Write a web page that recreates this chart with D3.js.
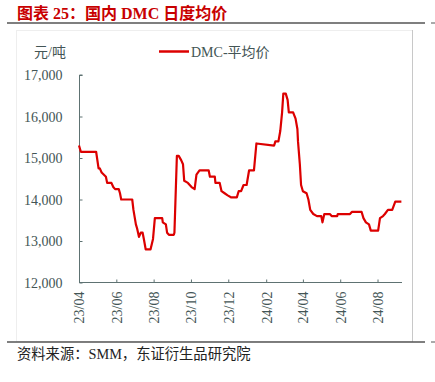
<!DOCTYPE html>
<html>
<head>
<meta charset="utf-8">
<script src="https://cdn.jsdelivr.net/npm/d3@7"></script>
<style>
  body { margin: 0; background: #fff; }
  svg { display: block; }
  text { font-family: "Liberation Serif", "Noto Sans CJK SC", serif; }
</style>
</head>
<body>
<svg id="chart" width="435" height="382"></svg>
<script>
// DMC daily average price, yuan / tonne
const dates = [
    "2023-04-01", "2023-04-04", "2023-04-29", "2023-05-03", "2023-05-05", "2023-05-08",
    "2023-05-15", "2023-05-17", "2023-05-24", "2023-05-27", "2023-05-30", "2023-06-05",
    "2023-06-07", "2023-06-09", "2023-06-27", "2023-06-29", "2023-07-03", "2023-07-05",
    "2023-07-08", "2023-07-11", "2023-07-14", "2023-07-16", "2023-07-19", "2023-07-27",
    "2023-07-31", "2023-08-03", "2023-08-15", "2023-08-16", "2023-08-21", "2023-08-23",
    "2023-08-26", "2023-08-30", "2023-09-03", "2023-09-04", "2023-09-08", "2023-09-11",
    "2023-09-15", "2023-09-18", "2023-09-20", "2023-09-26", "2023-10-02", "2023-10-07",
    "2023-10-10", "2023-10-15", "2023-10-30", "2023-11-01", "2023-11-09", "2023-11-10",
    "2023-11-17", "2023-11-20", "2023-11-25", "2023-11-30", "2023-12-06", "2023-12-15",
    "2023-12-18", "2023-12-22", "2023-12-26", "2023-12-31", "2024-01-04", "2024-01-12",
    "2024-01-16", "2024-02-14", "2024-02-16", "2024-02-21", "2024-02-24", "2024-02-27",
    "2024-02-29", "2024-03-04", "2024-03-07", "2024-03-09", "2024-03-16", "2024-03-20",
    "2024-03-23", "2024-03-24", "2024-03-27", "2024-03-29", "2024-04-01", "2024-04-07",
    "2024-04-10", "2024-04-13", "2024-04-18", "2024-04-24", "2024-05-01", "2024-05-03",
    "2024-05-06", "2024-05-15", "2024-05-18", "2024-05-27", "2024-05-28", "2024-06-17",
    "2024-06-20", "2024-07-06", "2024-07-09", "2024-07-13", "2024-07-18", "2024-07-21",
    "2024-08-02", "2024-08-05", "2024-08-10", "2024-08-13", "2024-08-18", "2024-08-25",
    "2024-08-30", "2024-09-09"
];
const prices = [
    15300, 15150, 15150, 14750, 14750, 14650,
    14550, 14400, 14400, 14300, 14250, 14250,
    14150, 14000, 14000, 13750, 13400, 13300,
    13100, 13200, 13200, 13050, 12800, 12800,
    13050, 13550, 13550, 13450, 13400, 13200,
    13150, 13150, 13150, 13200, 15050, 15050,
    14950, 14850, 14450, 14400, 14300, 14250,
    14600, 14700, 14700, 14550, 14550, 14400,
    14400, 14200, 14150, 14100, 14050, 14050,
    14200, 14200, 14350, 14350, 14700, 14700,
    15350, 15300, 15400, 15400, 15650, 16100,
    16550, 16550, 16400, 16100, 16100, 15950,
    15700, 15400, 14850, 14350, 14200, 14150,
    14000, 13750, 13650, 13600, 13600, 13450,
    13650, 13650, 13600, 13600, 13650, 13650,
    13700, 13700, 13550, 13450, 13400, 13250,
    13250, 13550, 13600, 13650, 13750, 13750,
    13950, 13950
];
const yTicks = [12000, 13000, 14000, 15000, 16000, 17000];
const xTickLabels = ["23/04", "23/06", "23/08", "23/10", "23/12", "24/02", "24/04", "24/06", "24/08"];

const parseDate = d3.timeParse("%Y-%m-%d");
const parseTick = d3.timeParse("%y/%m");
const series = dates.map((d, i) => ({ date: parseDate(d), value: prices[i] }));

const svg = d3.select("#chart");
const red = "#dc0000";
const axisColor = "#5e7272";
const textColor = "#435555";

// frame and separators
svg.append("rect")
    .attr("x", 16.5).attr("y", 30.5).attr("width", 396).attr("height", 311)
    .attr("fill", "none").attr("stroke", "#eeeeee");
svg.append("line")
    .attr("x1", 412.5).attr("x2", 412.5).attr("y1", 30).attr("y2", 342)
    .attr("stroke", "#c8c8c8");
[23, 342].forEach(y => {
    svg.append("line")
        .attr("x1", 7).attr("x2", 425).attr("y1", y).attr("y2", y)
        .attr("stroke", "#555").attr("stroke-width", 1.5);
    svg.append("line")
        .attr("x1", 431).attr("x2", 435).attr("y1", y).attr("y2", y)
        .attr("stroke", "#555").attr("stroke-width", 1);
});

// title
svg.append("text")
    .attr("x", 17).attr("y", 19)
    .attr("fill", "#c80000")
    .attr("font-size", 16).attr("font-weight", "bold")
    .text("图表 25：国内 DMC 日度均价");

// footer
svg.append("text")
    .attr("x", 17).attr("y", 359)
    .attr("fill", "#222")
    .attr("font-size", 14.3)
    .text("资料来源：SMM，东证衍生品研究院");

const x = d3.scaleTime()
    .domain([parseDate("2023-04-01"), parseDate("2024-09-10")])
    .range([79, 402]);
const y = d3.scaleLinear().domain([12000, 17000]).range([282.5, 75]);

// y axis
const yAxis = svg.append("g")
    .attr("transform", "translate(79.5,0)")
    .call(d3.axisRight(y).tickValues(yTicks).tickSize(3).tickFormat(d3.format(",")));
yAxis.select(".domain").attr("stroke", axisColor).attr("d", `M3,${y(17000)}H0V${y(12000)}`);
yAxis.selectAll(".tick line").attr("stroke", axisColor);
yAxis.selectAll(".tick text")
    .attr("x", -17).attr("text-anchor", "end").attr("dy", "0.35em")
    .attr("font-size", 14).attr("fill", textColor)
    .style("font-family", "Liberation Serif");

// x axis
const xAxis = svg.append("g")
    .attr("transform", "translate(0,282.5)")
    .call(d3.axisTop(x)
        .tickValues(xTickLabels.map(parseTick))
        .tickSize(3)
        .tickFormat(d3.timeFormat("%y/%m")));
xAxis.select(".domain").attr("stroke", axisColor).attr("d", `M${x.range()[0]},0H${x.range()[1]}`);
xAxis.selectAll(".tick line").attr("stroke", axisColor);
xAxis.selectAll(".tick text")
    .attr("transform", "rotate(-90)")
    .attr("x", -9).attr("y", 0).attr("dy", "0.35em")
    .attr("text-anchor", "end")
    .attr("font-size", 14).attr("fill", textColor)
    .style("font-family", "Liberation Serif");

// unit label
svg.append("text")
    .attr("x", 50).attr("y", 57).attr("text-anchor", "middle")
    .attr("font-size", 14).attr("fill", textColor)
    .text("元/吨");

// legend
svg.append("line")
    .attr("x1", 159).attr("x2", 189).attr("y1", 51.5).attr("y2", 51.5)
    .attr("stroke", red).attr("stroke-width", 2.5);
svg.append("text")
    .attr("x", 191).attr("y", 57)
    .attr("font-size", 14).attr("fill", textColor)
    .text("DMC-平均价");

// price line
const line = d3.line()
    .x(d => x(d.date))
    .y(d => y(d.value));

svg.append("path")
    .datum(series)
    .attr("fill", "none")
    .attr("stroke", red)
    .attr("stroke-width", 2.2)
    .attr("stroke-linejoin", "round")
    .attr("d", line);
</script>
</body>
</html>
